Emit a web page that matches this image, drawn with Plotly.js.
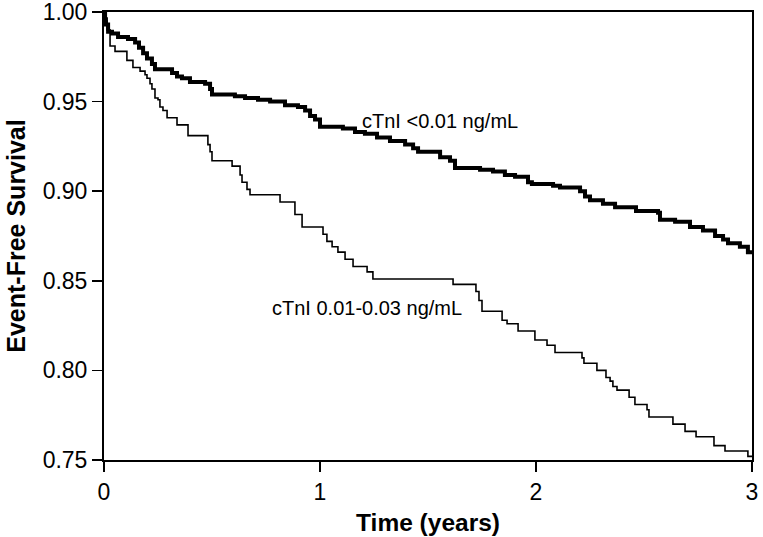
<!DOCTYPE html>
<html>
<head>
<meta charset="utf-8">
<script src="https://cdn.plot.ly/plotly-3.0.1.min.js"></script>
<style>html,body{margin:0;padding:0;background:#fff;}#chart{width:763px;height:537px;}</style>
</head>
<body>
<div id="chart"></div>
<script>
// Upper curve: cTnI <0.01 ng/mL
const timeLow = [0, 0.005, 0.009, 0.019, 0.037, 0.065, 0.111, 0.144, 0.162, 0.181, 0.199, 0.222, 0.236, 0.315, 0.338, 0.361, 0.398, 0.468, 0.491, 0.500, 0.606, 0.653, 0.713, 0.769, 0.838, 0.898, 0.931, 0.954, 0.977, 1.000, 1.106, 1.162, 1.208, 1.264, 1.324, 1.394, 1.431, 1.454, 1.556, 1.602, 1.625, 1.741, 1.801, 1.856, 1.903, 1.963, 1.981, 2.079, 2.111, 2.204, 2.227, 2.250, 2.310, 2.366, 2.463, 2.565, 2.574, 2.644, 2.713, 2.773, 2.829, 2.866, 2.889, 2.944, 2.981, 3.0];
const survLow = [1.000, 0.996, 0.993, 0.989, 0.988, 0.986, 0.985, 0.983, 0.980, 0.977, 0.974, 0.971, 0.968, 0.966, 0.964, 0.963, 0.961, 0.960, 0.957, 0.954, 0.953, 0.952, 0.951, 0.950, 0.948, 0.947, 0.945, 0.942, 0.940, 0.936, 0.935, 0.933, 0.932, 0.930, 0.928, 0.926, 0.924, 0.922, 0.919, 0.917, 0.913, 0.912, 0.911, 0.909, 0.908, 0.905, 0.904, 0.903, 0.902, 0.900, 0.897, 0.895, 0.893, 0.891, 0.889, 0.888, 0.884, 0.883, 0.880, 0.878, 0.875, 0.873, 0.871, 0.869, 0.866, 0.866];

// Lower curve: cTnI 0.01-0.03 ng/mL
const timeMid = [0, 0.005, 0.014, 0.028, 0.051, 0.106, 0.134, 0.167, 0.190, 0.199, 0.213, 0.222, 0.236, 0.250, 0.259, 0.273, 0.292, 0.338, 0.389, 0.481, 0.491, 0.500, 0.593, 0.630, 0.639, 0.662, 0.676, 0.815, 0.884, 0.917, 1.014, 1.032, 1.056, 1.083, 1.116, 1.153, 1.218, 1.245, 1.616, 1.722, 1.736, 1.750, 1.843, 1.866, 1.917, 1.995, 2.051, 2.088, 2.213, 2.222, 2.282, 2.324, 2.343, 2.356, 2.375, 2.431, 2.458, 2.514, 2.523, 2.634, 2.690, 2.741, 2.824, 2.875, 2.981, 3.0];
const survMid = [1.000, 0.995, 0.990, 0.981, 0.978, 0.973, 0.969, 0.967, 0.965, 0.963, 0.960, 0.957, 0.952, 0.951, 0.947, 0.945, 0.941, 0.937, 0.931, 0.926, 0.922, 0.917, 0.914, 0.909, 0.905, 0.901, 0.898, 0.894, 0.887, 0.880, 0.876, 0.872, 0.869, 0.866, 0.862, 0.858, 0.855, 0.851, 0.848, 0.844, 0.839, 0.833, 0.828, 0.826, 0.822, 0.817, 0.814, 0.810, 0.807, 0.804, 0.800, 0.796, 0.794, 0.791, 0.789, 0.785, 0.781, 0.778, 0.774, 0.770, 0.766, 0.763, 0.758, 0.755, 0.752, 0.752];

const xTicks = [0, 1, 2, 3];
const yTicks = [0.75, 0.80, 0.85, 0.90, 0.95, 1.00];
const labelLow = 'cTnI <0.01 ng/mL';
const labelMid = 'cTnI 0.01-0.03 ng/mL';

const traces = [
  {x: timeLow, y: survLow, mode: 'lines', line: {shape: 'hv', color: '#000', width: 4}, hoverinfo: 'skip', showlegend: false},
  {x: timeMid, y: survMid, mode: 'lines', line: {shape: 'hv', color: '#000', width: 1.6}, hoverinfo: 'skip', showlegend: false}
];

const fontFam = 'Liberation Sans, Arial, sans-serif';
const layout = {
  width: 763, height: 537,
  margin: {l: 104, r: 11, t: 12, b: 77},
  paper_bgcolor: '#fff', plot_bgcolor: '#fff',
  font: {family: fontFam, color: '#000', size: 16},
  xaxis: {
    range: [0, 3], tickvals: xTicks, ticktext: xTicks.map(String),
    showline: true, mirror: true, linecolor: '#000', linewidth: 2,
    ticks: 'outside', ticklen: 10, tickwidth: 1.5, tickcolor: '#000',
    showgrid: false, zeroline: false, automargin: false,
    tickfont: {size: 23, family: fontFam},
    title: {text: '<b>Time (years)</b>', font: {size: 24.5, family: fontFam}, standoff: 10}
  },
  yaxis: {
    range: [0.75, 1.0], tickvals: yTicks, ticktext: yTicks.map(v => v.toFixed(2)),
    showline: true, mirror: true, linecolor: '#000', linewidth: 2,
    ticks: 'outside', ticklen: 10, tickwidth: 1.5, tickcolor: '#000',
    showgrid: false, zeroline: false, automargin: false, ticklabeloverflow: 'allow',
    tickfont: {size: 23, family: fontFam},
    title: {text: '<b>Event-Free Survival</b>', font: {size: 25, family: fontFam}, standoff: 10}
  },
  annotations: [
    {x: 1.556, y: 0.939, xref: 'x', yref: 'y', text: labelLow, showarrow: false, font: {size: 20, family: fontFam}},
    {x: 1.218, y: 0.835, xref: 'x', yref: 'y', text: labelMid, showarrow: false, font: {size: 20, family: fontFam}}
  ]
};

Plotly.newPlot('chart', traces, layout, {displayModeBar: false, staticPlot: true});
</script>
</body>
</html>
